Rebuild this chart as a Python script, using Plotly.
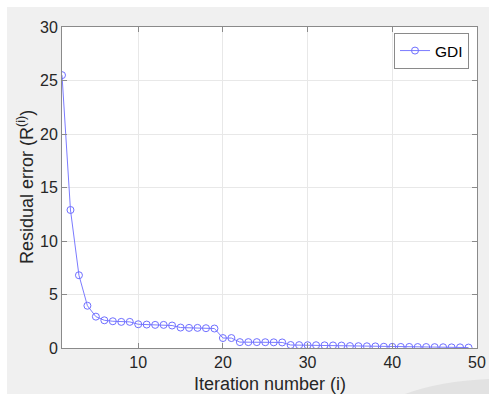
import plotly.graph_objects as go

iterations = list(range(1, 50))
residual = [25.5, 12.9, 6.8, 3.95, 2.93, 2.59, 2.5, 2.44, 2.44, 2.22,
            2.19, 2.16, 2.16, 2.1, 1.91, 1.88, 1.88, 1.85, 1.82, 0.93,
            0.93, 0.55, 0.55, 0.55, 0.54, 0.53, 0.52, 0.28, 0.27, 0.26,
            0.26, 0.25, 0.24, 0.23, 0.18, 0.17, 0.16, 0.15, 0.12, 0.11,
            0.1, 0.1, 0.09, 0.09, 0.08, 0.07, 0.06, 0.06, 0.04]
x_ticks = [10, 20, 30, 40, 50]
y_ticks = [0, 5, 10, 15, 20, 25, 30]
series_name = "GDI"
x_title = "Iteration number (i)"
y_title = "Residual error (R<sup>(i)</sup>)"

W, H = 489, 394
L, R, T, B = 62, 12, 27, 46
pw, ph = W - L - R, H - T - B
FONT = "Liberation Sans, Arial, Helvetica, sans-serif"

def px(x):
    return (x - L) / pw

def py(y):
    return (H - B - y) / ph

fig = go.Figure()
fig.add_trace(go.Scatter(
    x=iterations, y=residual, mode="lines+markers", name=series_name,
    line=dict(color="#7b7bff", width=1),
    marker=dict(symbol="circle-open", size=7, color="#6f6fff", line=dict(width=1)),
))

axis_common = dict(
    showline=True, linecolor="#8a8a8a", linewidth=1, mirror="ticks",
    ticks="inside", ticklen=5, tickcolor="#8a8a8a", automargin=False,
    showgrid=True, gridcolor="#e8e8e8", gridwidth=1, zeroline=False,
    tickfont=dict(family=FONT, size=16, color="#262626"),
)

fig.update_layout(
    width=W, height=H,
    margin=dict(l=L, r=R, t=T, b=B, pad=0, autoexpand=False),
    paper_bgcolor="#f0f0f0", plot_bgcolor="white",
    showlegend=True,
    legend=dict(x=px(469), y=py(33), xanchor="right", yanchor="top",
                bgcolor="white", bordercolor="#8a8a8a", borderwidth=1,
                font=dict(family=FONT, size=15.5, color="black"),
                itemwidth=30, tracegroupgap=0),
    xaxis=dict(range=[1, 50], tickvals=x_ticks, **axis_common),
    yaxis=dict(range=[0, 30], tickvals=y_ticks, **axis_common),
    annotations=[
        dict(text=x_title, xref="paper", yref="paper", x=px(269.5), y=py(372),
             xanchor="center", yanchor="top", showarrow=False,
             font=dict(family=FONT, size=18, color="#262626")),
        dict(text=y_title, xref="paper", yref="paper", x=px(25), y=py(187),
             xanchor="center", yanchor="middle", textangle=-90, showarrow=False,
             font=dict(family=FONT, size=18, color="#262626")),
    ],
    shapes=[
        dict(type="rect", xref="paper", yref="paper", x0=px(0), x1=px(W), y0=py(0), y1=py(7),
             fillcolor="white", line=dict(width=0), layer="below"),
        dict(type="rect", xref="paper", yref="paper", x0=px(0), x1=px(7), y0=py(H), y1=py(0),
             fillcolor="white", line=dict(width=0), layer="below"),
        dict(type="path", xref="paper", yref="paper",
             path=(f"M {px(405)},{py(394)} Q {px(440)},{py(381)} {px(489)},{py(379)} "
                   f"L {px(489)},{py(394)} Z"),
             fillcolor="#e2e2e2", line=dict(width=0), layer="below"),
    ],
)

fig.write_html("out.html", config={"displayModeBar": False},
               post_script="document.body.style.margin='0';document.body.style.overflow='hidden';")
